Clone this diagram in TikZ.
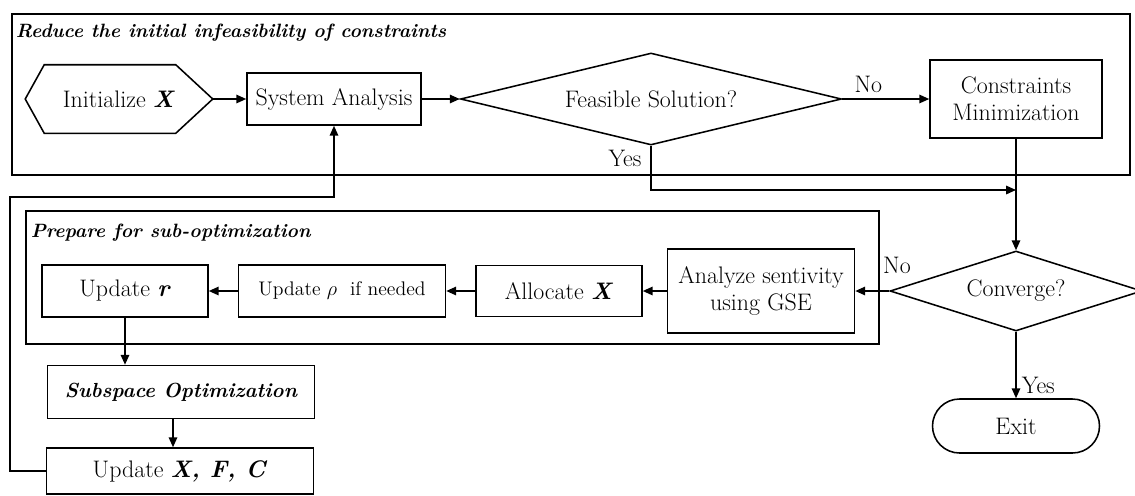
\documentclass[tikz,border=0pt]{standalone}
\usetikzlibrary{arrows.meta,shapes.misc,shapes.geometric,calc}
\newdimen\pxu \pxu=0.025cm
\begin{document}
\begin{tikzpicture}[x=0.025cm,y=-0.025cm, line width=1.1pt,
  font=\fontsize{17}{19}\selectfont,
  box/.style={draw, rectangle, align=center, inner sep=0pt},
  frame/.style={draw, line width=1.1pt},
  dia/.style={draw, diamond, inner sep=0pt, align=center},
  arr/.style={-{Triangle[length=7pt,width=6pt]}},
  ttl/.style={font=\fontsize{13.7}{15}\selectfont\bfseries\itshape, anchor=west, inner sep=0pt},
  lbl/.style={inner sep=0pt}]
\useasboundingbox (0,0) rectangle (1135,495);
\clip (0,0) rectangle (1135,495);
\fill[white] (0,0) rectangle (1135,495);
% frames
\draw[frame] (12,14) rectangle (1130,175);
\node[ttl] (t1) at (15,33) {Reduce the initial infeasibility of constraints};
\draw[frame] (26,211) rectangle (879,344);
\node[ttl] (t2) at (30,233) {Prepare for sub-optimization};
% nodes
\node[lbl, minimum width=186\pxu, minimum height=67\pxu] (init) at (119,99) {Initialize \textbf{\textit{X}}};
\draw (init.west) -- ([xshift=19\pxu]init.north west) -- ([xshift=-37\pxu]init.north east) -- (init.east)
  -- ([xshift=-37\pxu]init.south east) -- ([xshift=19\pxu]init.south west) -- cycle;
\node[box, minimum width=174\pxu, minimum height=52\pxu] (sa) at (334,99) {System Analysis};
\node[dia, aspect=4.14, minimum width=381\pxu, minimum height=92\pxu] (fs) at (651,99) {Feasible Solution?};
\node[box, minimum width=172\pxu, minimum height=78\pxu] (cm) at (1016,99) {Constraints\\Minimization};
\node[dia, aspect=3.15, minimum width=252\pxu, minimum height=80\pxu] (cv) at (1016,291) {Converge?};
\node[box, minimum width=187\pxu, minimum height=84\pxu] (an) at (761,291) {Analyze sentivity\\using GSE};
\node[box, minimum width=166\pxu, minimum height=51\pxu] (al) at (559,291) {Allocate \textbf{\textit{X}}};
\node[box, minimum width=207\pxu, minimum height=52\pxu, font=\fontsize{14}{16}\selectfont] (ro) at (342,291) {Update $\rho$\ \ if needed};
\node[box, minimum width=166\pxu, minimum height=52\pxu] (ur) at (125,291) {Update \textbf{\textit{r}}};
\node[box, minimum width=267\pxu, minimum height=53\pxu, font=\fontsize{14.5}{16}\selectfont\bfseries\itshape] (so) at (181,392) {Subspace Optimization};
\node[box, minimum width=267\pxu, minimum height=46\pxu] (uf) at (180,471) {Update \textbf{\textit{X, F, C}}};
\node[draw, rounded rectangle, minimum width=167\pxu, minimum height=54\pxu, inner sep=0pt] (ex) at (1016,426) {Exit};
\coordinate (j) at (1016,190);
\coordinate (lp1) at (10,197);
% connectors
\draw[arr] (init.east) -- (sa.west);
\draw[arr] (sa.east) -- (fs.west);
\draw[arr] (fs.east) -- node[lbl, pos=0.3, above=6\pxu] {No} (cm.west);
\draw[arr] (fs.south) |- (j);
\node[lbl] at (625,158) {Yes};
\draw[arr] (cm.south) -- (cv.north);
\draw[arr] (cv.west) -- (an.east);
\node[lbl] at (897,265) {No};
\draw[arr] (an.west) -- (al.east);
\draw[arr] (al.west) -- (ro.east);
\draw[arr] (ro.west) -- (ur.east);
\draw[arr] (ur.south) -- (so.north -| ur.south);
\draw[arr] ([xshift=-8\pxu]so.south) -- ([xshift=-8\pxu]so.south |- uf.north);
\draw[arr] (uf.west) -| (lp1) -| (sa.south);
\draw[arr] (cv.south) -- node[lbl, pos=0.8, right=5\pxu] {Yes} (ex.north);
\end{tikzpicture}
\end{document}
